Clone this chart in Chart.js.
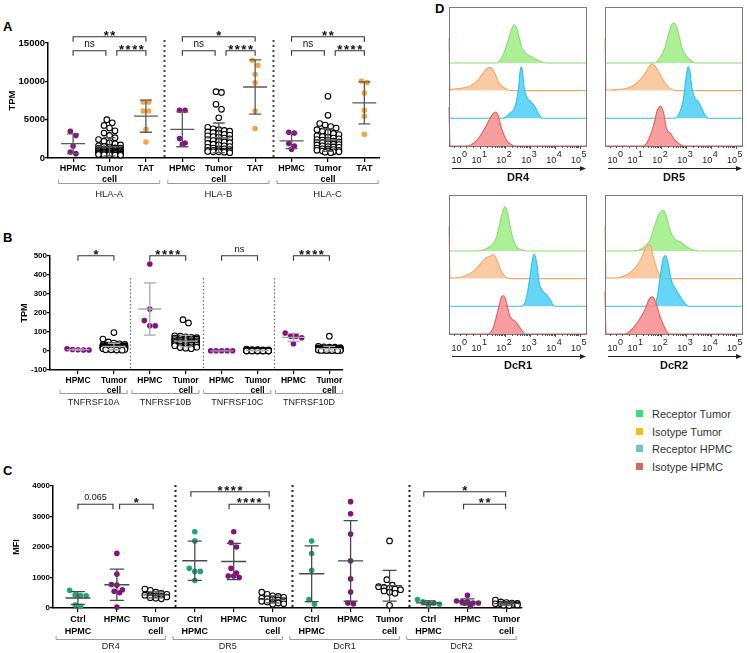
<!DOCTYPE html>
<html>
<head>
<meta charset="utf-8">
<script src="https://cdn.jsdelivr.net/npm/chart.js@4.4.1/dist/chart.umd.min.js"></script>
<style>
  html, body { margin:0; padding:0; background:#fff; }
  body { width:747px; height:653px; position:relative; overflow:hidden; font-family:"Liberation Sans", Arial, sans-serif; }
  canvas { position:absolute; }
  .tag { position:absolute; font-weight:bold; font-size:13px; line-height:14px; color:#000; }
  .leg { position:absolute; left:636px; font-size:11px; color:#333; line-height:12px; height:12px; }
  .leg i { position:absolute; left:0; top:2px; width:7px; height:7px; }
  .leg span { position:absolute; left:16px; top:0; white-space:nowrap; }
</style>
</head>
<body>
<div class="tag" style="left:3px;top:20px">A</div>
<div class="tag" style="left:3px;top:231px">B</div>
<div class="tag" style="left:3px;top:464px">C</div>
<div class="tag" style="left:435px;top:2px">D</div>

<canvas id="chartA" width="390" height="205" style="left:0;top:0"></canvas>
<canvas id="chartB" width="350" height="190" style="left:0;top:225px"></canvas>
<canvas id="chartC" width="530" height="185" style="left:0;top:468px"></canvas>
<canvas id="histDR4" width="152" height="185" style="left:440px;top:0"></canvas>
<canvas id="histDR5" width="152" height="185" style="left:596px;top:0"></canvas>
<canvas id="histDcR1" width="152" height="185" style="left:440px;top:188px"></canvas>
<canvas id="histDcR2" width="152" height="185" style="left:596px;top:188px"></canvas>

<div class="leg" style="top:408px"><i style="background:#33e27b"></i><span>Receptor Tumor</span></div>
<div class="leg" style="top:426px"><i style="background:#ffb81f"></i><span>Isotype Tumor</span></div>
<div class="leg" style="top:443px"><i style="background:#6cc4c4"></i><span>Receptor HPMC</span></div>
<div class="leg" style="top:461px"><i style="background:#cf6a63"></i><span>Isotype HPMC</span></div>

<script>
// Panel A - HLA expression (TPM)
const catsA = ['HPMC', 'Tumor cell', 'TAT'];
const genesA = ['HLA-A', 'HLA-B', 'HLA-C'];
const sigA = [['**', 'ns', '****'], ['*', 'ns', '****'], ['**', 'ns', '****']];
const hlaA_hpmc = [3490, 2920, 1570, 570, 785];
const hlaA_tumor = [5000, 4600, 4250, 3900, 3550, 3250, 2950, 2650, 2400, 2200,
  2000, 1850, 1700, 1600, 1500, 1400, 1320, 1250, 1180, 1100,
  1050, 1000, 950, 900, 860, 820, 780, 740, 700, 660,
  620, 580, 540, 500, 470, 440, 410, 380, 350,
  900, 1000, 800, 700, 600, 1200, 1300, 550, 650];
const hlaA_tat = [7310, 7310, 6135, 6135, 3750, 2090];
const hlaB_hpmc = [6215, 6215, 2530, 1960, 1790];
const hlaB_tumor = [8650, 8550, 7000, 6350, 5250, 4000, 3800, 3700, 3600, 3500,
  3400, 3300, 3200, 3100, 3000, 2900, 2800, 2700, 2600, 2500,
  2400, 2300, 2200, 2100, 2000, 1900, 1800, 1700, 1600, 1500,
  1400, 1300, 1200, 1100, 1000, 950, 900, 850, 800, 750,
  700, 800, 900, 1000, 1200];
const hlaB_tat = [12750, 12100, 10930, 9800, 6140, 3840];
const hlaC_hpmc = [3355, 3265, 1880, 1570, 1135];
const hlaC_tumor = [8050, 5570, 4500, 4300, 4100, 3900, 3700, 3500, 3350, 3200,
  3050, 2900, 2800, 2700, 2600, 2500, 2400, 2300, 2200, 2100,
  2000, 1900, 1800, 1700, 1600, 1500, 1400, 1300, 1200, 1100,
  1000, 900, 800, 750, 700, 1450, 1750, 2050, 2350, 1150,
  800, 900, 1000];
const hlaC_tat = [9840, 10050, 8490, 6230, 5445, 3090];

// Panel B - TRAIL receptors (TPM)
const catsB = ['HPMC', 'Tumor cell'];
const genesB = ['TNFRSF10A', 'TNFRSF10B', 'TNFRSF10C', 'TNFRSF10D'];
const sigB = ['*', '****', 'ns', '****'];
const r10A_hpmc = [8, 12, 6, 5, 5];
const r10A_tumor = [97, 63, 48, 42, 38, 35, 33, 31, 30, 29, 28, 27, 26, 25, 24, 23, 22, 21, 20, 19,
  18, 17, 16, 15, 14, 13, 12, 11, 10, 9, 8, 7, 6, 5, 4, 22, 18, 25, 20, 15];
const r10B_hpmc = [458, 221, 160, 133, 133];
const r10B_tumor = [165, 148, 80, 78, 75, 72, 70, 68, 66, 64, 62, 60, 58, 56, 54, 52, 50, 48, 46, 44,
  42, 40, 38, 36, 34, 32, 30, 28, 26, 24, 22, 20, 18, 15, 12, 55, 45, 35, 65, 50];
const r10C_hpmc = [1, 1, 1, 1, 1];
const r10C_tumor = [10, 8, 7, 6, 5, 5, 4, 4, 3, 3, 3, 2, 2, 2, 1, 1, 1, 1, 0, 0,
  0, 0, 0, 2, 3, 4, 1, 0, 1, 2, 5, 6, 3, 2, 1, 0, 4, 2, 1, 3];
const r10D_hpmc = [95, 77, 77, 70, 38];
const r10D_tumor = [78, 25, 22, 20, 18, 17, 16, 15, 14, 13, 12, 11, 10, 10, 9, 8, 7, 6, 5, 5,
  4, 3, 2, 1, 12, 8, 6, 14, 10, 7, 4, 3, 9, 11, 2, 5, 6, 8, 15, 20];

// Panel C - flow cytometry MFI
const catsC = ['Ctrl HPMC', 'HPMC', 'Tumor cell'];
const receptorsC = ['DR4', 'DR5', 'DcR1', 'DcR2'];
const dr4_ctrl = [580, 430, 410, 400, 50, 100];
const dr4_hpmc = [1790, 1110, 770, 750, 600, 500, 550, 30];
const dr4_tumor = [620, 580, 520, 480, 450, 420, 400, 390, 380, 360, 340, 320, 300];
const dr5_ctrl = [2500, 2200, 1300, 1200, 1200, 900];
const dr5_hpmc = [2500, 2150, 2000, 1300, 1150, 1000, 1050, 1050];
const dr5_tumor = [520, 450, 400, 380, 350, 320, 300, 280, 260, 240, 220, 200, 180, 160, 140, 120];
const dcr1_ctrl = [2193, 1787, 1239, 274, 120];
const dcr1_hpmc = [3487, 3092, 2423, 1546, 954, 526, 143, 164];
const dcr1_tumor = [2200, 930, 750, 700, 680, 650, 620, 600, 560, 520, 480, 90];
const dcr2_ctrl = [120, 200, 165, 165, 275, 100];
const dcr2_hpmc = [420, 165, 200, 200, 165, 165, 70, 230];
const dcr2_tumor = [260, 200, 180, 160, 150, 140, 130, 120, 110, 100, 90, 80];

// Panel D - histograms: [position on biexponential axis (decades), relative count]
const decadePos = [0.2, 1, 2, 3, 4, 5];
const dr4_recTumor = [[1.67,0],[1.87,0.18],[2.04,0.54],[2.18,0.96],[2.29,1.26],[2.38,1.38],[2.47,1.26],[2.58,0.90],[2.69,0.54],[2.82,0.36],[2.98,0.26],[3.14,0.18],[3.41,0.06],[3.65,0]];
const dr4_isoTumor = [[-0.245,1.89],[-0.2,0.03],[-0.14,0.05],[0.2,0.08],[0.6,0.17],[0.87,0.32],[1.07,0.57],[1.24,0.75],[1.37,0.84],[1.47,0.81],[1.6,0.63],[1.73,0.32],[1.94,0.12],[2.14,0.02],[2.27,0]];
const dr4_recHpmc = [[1.9,0],[2.04,0.04],[2.2,0.18],[2.41,0.42],[2.54,1.02],[2.61,1.68],[2.66,1.86],[2.71,1.68],[2.77,1.14],[2.87,0.78],[3.04,0.60],[3.21,0.42],[3.34,0.18],[3.52,0]];
const dr4_isoHpmc = [[-0.245,1.41],[-0.2,0],[0.5,0],[0.67,0.06],[0.87,0.2],[1.07,0.45],[1.24,0.71],[1.4,0.99],[1.53,1.17],[1.63,1.23],[1.73,1.11],[1.83,0.75],[1.94,0.45],[2.07,0.2],[2.27,0.05],[2.41,0]];
const dr5_recTumor = [[1.76,0],[1.96,0.18],[2.16,0.54],[2.30,1.02],[2.43,1.38],[2.53,1.44],[2.63,1.32],[2.74,0.96],[2.87,0.48],[3.01,0.26],[3.17,0.12],[3.37,0]];
const dr5_isoTumor = [[-0.245,1.89],[-0.2,0.02],[-0.04,0.02],[0.36,0.05],[0.76,0.12],[1.09,0.32],[1.36,0.62],[1.53,0.87],[1.63,0.96],[1.76,0.89],[1.94,0.63],[2.16,0.27],[2.37,0.08],[2.57,0]];
const dr5_recHpmc = [[2.57,0],[2.77,0.24],[2.90,0.66],[3.0,1.38],[3.09,1.86],[3.17,1.68],[3.24,1.14],[3.37,0.72],[3.50,0.60],[3.64,0.36],[3.77,0.12],[3.90,0]];
const dr5_isoHpmc = [[1.29,0],[1.49,0.2],[1.69,0.69],[1.86,1.29],[1.99,1.43],[2.10,1.23],[2.23,0.63],[2.39,0.45],[2.57,0.2],[2.77,0.06],[2.90,0]];
const dcr1_recTumor = [[0.87,0],[1.2,0.06],[1.47,0.2],[1.67,0.51],[1.80,0.99],[1.91,1.41],[2.0,1.59],[2.10,1.41],[2.2,0.93],[2.34,0.39],[2.47,0.14],[2.67,0.04],[2.88,0]];
const dcr1_isoTumor = [[-0.245,1.89],[-0.2,0.02],[-0.14,0.02],[0.33,0.08],[0.73,0.26],[1.0,0.51],[1.24,0.75],[1.4,0.81],[1.53,0.87],[1.67,0.69],[1.83,0.32],[2.0,0.08],[2.2,0]];
const dcr1_recHpmc = [[2.67,0],[2.85,0.24],[3.01,1.08],[3.12,1.74],[3.18,1.89],[3.28,1.56],[3.38,0.84],[3.52,0.54],[3.68,0.42],[3.81,0.24],[4.01,0]];
const dcr1_isoHpmc = [[1.29,0],[1.53,0.22],[1.73,0.88],[1.87,1.34],[1.96,1.38],[2.07,1.12],[2.2,0.64],[2.41,0.46],[2.61,0.22],[2.81,0]];
const dcr2_recTumor = [[0.89,0],[1.29,0.11],[1.56,0.39],[1.76,0.93],[1.94,1.35],[2.10,1.47],[2.23,1.23],[2.39,0.69],[2.57,0.42],[2.77,0.33],[3.04,0.14],[3.5,0]];
const dcr2_isoTumor = [[-0.245,1.89],[-0.2,0.02],[0.09,0.02],[0.63,0.14],[0.96,0.38],[1.19,0.69],[1.36,1.05],[1.49,1.23],[1.59,1.17],[1.69,0.81],[1.83,0.38],[1.99,0.08],[2.10,0]];
const dcr2_recHpmc = [[1.69,0],[1.86,0.36],[1.99,1.2],[2.10,1.74],[2.19,1.83],[2.30,1.5],[2.43,0.9],[2.61,0.6],[2.77,0.36],[2.97,0.1],[3.10,0]];
const dcr2_isoHpmc = [[-0.245,1.54],[-0.2,0],[0.56,0],[0.76,0.1],[1.09,0.46],[1.36,0.88],[1.53,1.26],[1.67,1.34],[1.80,1.12],[1.96,0.64],[2.16,0.22],[2.34,0]];

Chart.defaults.font.family = '"Liberation Sans", Arial, sans-serif';
Chart.defaults.color = '#000';

const PURPLE = '#850f85', ORANGE = '#f9a440', GREEN = '#1fa37a', OPEN = 'open';

function mean(a){ return a.reduce((s, v) => s + v, 0) / a.length; }
function sd(a){ const m = mean(a); return Math.sqrt(a.reduce((s, v) => s + (v - m) * (v - m), 0) / (a.length - 1)); }

// prism-like rows: close values share a row centred on the column
function swarm(vals, col, binY, step){
  const sorted = vals.slice().sort((a, b) => b - a);
  const out = [];
  let row = [];
  const flush = () => { row.forEach((v, j) => out.push({x: col + (j - (row.length - 1) / 2) * step, y: v})); row = []; };
  sorted.forEach(v => {
    if (row.length && (row[0] - v > binY || row.length >= 5)) flush();
    row.push(v);
  });
  flush();
  return out;
}

function drawSig(ctx, text, mid, y, font){
  if (/^\*+$/.test(text)){
    ctx.font = 'bold 13px "Liberation Sans", Arial';
    const n = text.length;
    for (let k = 0; k < n; k++) ctx.fillText('*', mid + (k - (n - 1) / 2) * 6.6, y + 3);
  } else {
    ctx.font = font;
    ctx.fillText(text, mid, y - 4);
  }
}

function overlay(p){
  return {
    id: 'overlay',
    afterDatasetsDraw(chart){
      const {ctx, scales: {x, y}} = chart;
      ctx.save();
      ctx.strokeStyle = p.barColor; ctx.lineWidth = 1.3;
      p.columns.forEach((vals, i) => {
        const m = mean(vals), s = sd(vals);
        const cx = x.getPixelForValue(i);
        const ym = y.getPixelForValue(m);
        const yt = y.getPixelForValue(m + s);
        const yb = y.getPixelForValue(Math.max(m - s, y.min));
        ctx.beginPath();
        ctx.moveTo(cx - p.meanHalf, ym); ctx.lineTo(cx + p.meanHalf, ym);
        ctx.moveTo(cx, yt); ctx.lineTo(cx, yb);
        ctx.moveTo(cx - p.capHalf, yt); ctx.lineTo(cx + p.capHalf, yt);
        if (m - s > y.min){ ctx.moveTo(cx - p.capHalf, yb); ctx.lineTo(cx + p.capHalf, yb); }
        ctx.stroke();
      });
      ctx.restore();
    },
    afterDraw(chart){
      const {ctx, chartArea, scales: {x}} = chart;
      ctx.save();
      // dotted separators
      ctx.strokeStyle = p.sep.color; ctx.lineWidth = p.sep.width; ctx.setLineDash(p.sep.dash);
      p.seps.forEach(v => {
        const px = Math.round(x.getPixelForValue(v)) + 0.5;
        ctx.beginPath(); ctx.moveTo(px, p.sep.top); ctx.lineTo(px, chartArea.bottom); ctx.stroke();
      });
      ctx.setLineDash([]);
      // significance brackets
      ctx.strokeStyle = '#333'; ctx.lineWidth = 1.1; ctx.fillStyle = '#111';
      ctx.textAlign = 'center'; ctx.textBaseline = 'alphabetic';
      p.brackets.forEach(b => {
        const x1 = x.getPixelForValue(b.from), x2 = x.getPixelForValue(b.to);
        ctx.beginPath();
        ctx.moveTo(x1, b.y + 5); ctx.lineTo(x1, b.y); ctx.lineTo(x2, b.y); ctx.lineTo(x2, b.y + 5);
        ctx.stroke();
        drawSig(ctx, b.text, (x1 + x2) / 2, b.y, p.sigFont);
      });
      // group brackets under the axis
      ctx.strokeStyle = '#9a9a9a'; ctx.lineWidth = 1; ctx.fillStyle = '#222';
      ctx.font = p.groupFont; ctx.textBaseline = 'middle';
      p.groups.forEach(g => {
        const x1 = x.getPixelForValue(g.from), x2 = x.getPixelForValue(g.to);
        ctx.beginPath();
        ctx.moveTo(x1, p.groupY - 3); ctx.lineTo(x1, p.groupY + 0.5); ctx.lineTo(x2, p.groupY + 0.5); ctx.lineTo(x2, p.groupY - 3);
        ctx.stroke();
        ctx.fillText(g.label, (x1 + x2) / 2, p.groupLabelY);
      });
      ctx.restore();
    }
  };
}

function dotPlot(id, p){
  const canvas = document.getElementById(id);
  const areaW = canvas.width - p.pad.left - p.pad.right - p.yW;
  const step = 5.5 * (p.xMax - p.xMin) / areaW;
  const datasets = p.columns.map((vals, i) => {
    const open = p.colors[i] === OPEN;
    return {
      data: swarm(vals, i, p.binY, step),
      pointRadius: 2.8,
      pointBackgroundColor: open ? '#fff' : p.colors[i],
      pointBorderColor: open ? '#000' : p.colors[i],
      pointBorderWidth: open ? 1.1 : 0,
      showLine: false,
      clip: false
    };
  });
  const labels = p.cats.map(c => c.split(' '));
  new Chart(canvas, {
    type: 'scatter',
    data: {datasets},
    options: {
      responsive: false,
      animation: false,
      layout: {padding: p.pad},
      plugins: {legend: {display: false}, tooltip: {enabled: false}},
      scales: {
        x: {
          type: 'linear', min: p.xMin, max: p.xMax,
          afterBuildTicks: s => { s.ticks = labels.map((l, i) => ({value: i})); },
          afterFit: s => { s.height = p.xH; },
          ticks: {autoSkip: false, maxRotation: 0, padding: p.xPad, color: '#000',
            font: {size: p.xFont, weight: 'bold', lineHeight: p.xLine},
            callback: v => labels[Math.round(v)]},
          grid: {drawOnChartArea: false, drawTicks: true, tickLength: 4, color: '#000', lineWidth: 1.2},
          border: {color: '#000', width: 1.5}
        },
        y: {
          min: p.yMin, max: p.yMax,
          afterFit: s => { s.width = p.yW; },
          ticks: {stepSize: p.yStep, padding: 0, color: '#000', font: {size: p.yFont, weight: 'bold'},
            callback: v => String(v)},
          grid: {drawOnChartArea: false, drawTicks: true, tickLength: 3, color: '#000', lineWidth: 1.2},
          border: {color: '#000', width: 1.5},
          title: {display: true, text: p.yTitle, color: '#000', font: {size: p.titleFont, weight: 'bold', lineHeight: 1.2},
            padding: {top: p.titlePad, bottom: 0}}
        }
      }
    },
    plugins: [overlay(p)]
  });
}

// ---------- Panel A
const colsA = [hlaA_hpmc, hlaA_tumor, hlaA_tat, hlaB_hpmc, hlaB_tumor, hlaB_tat, hlaC_hpmc, hlaC_tumor, hlaC_tat];
const bracketsA = [], groupsA = [];
genesA.forEach((g, k) => {
  const o = k * 3;
  bracketsA.push({from: o, to: o + 2, y: 36.7, text: sigA[k][0]});
  bracketsA.push({from: o, to: o + 0.9, y: 50.7, text: sigA[k][1]});
  bracketsA.push({from: o + 1.2, to: o + 2, y: 50.7, text: sigA[k][2]});
  groupsA.push({from: o - 0.4, to: o + 2.38, label: g});
});
dotPlot('chartA', {
  columns: colsA,
  colors: [PURPLE, OPEN, ORANGE, PURPLE, OPEN, ORANGE, PURPLE, OPEN, ORANGE],
  cats: genesA.flatMap(() => catsA),
  xMin: -0.69, xMax: 8.43, yMin: 0, yMax: 15000, yStep: 5000, yTitle: 'TPM',
  pad: {left: 0, top: 43, right: 10, bottom: 0}, yW: 48, xH: 47,
  xFont: 9, xLine: 1.2, xPad: 1, yFont: 9.5, titleFont: 9.5, titlePad: 6.5,
  binY: 720, barColor: '#5a5a5a', meanHalf: 12, capHalf: 6,
  seps: [2.5, 5.5], sep: {top: 40, width: 2, dash: [2, 3], color: '#444'},
  brackets: bracketsA, sigFont: '10px "Liberation Sans", Arial',
  groups: groupsA, groupY: 183, groupLabelY: 194, groupFont: '9.5px "Liberation Sans", Arial'
});

// ---------- Panel B
const colsB = [r10A_hpmc, r10A_tumor, r10B_hpmc, r10B_tumor, r10C_hpmc, r10C_tumor, r10D_hpmc, r10D_tumor];
const bracketsB = [], groupsB = [];
genesB.forEach((g, k) => {
  const o = k * 2;
  bracketsB.push({from: o, to: o + 1, y: 30.7, text: sigB[k]});
  groupsB.push({from: o - 0.5, to: o + 1.37, label: g});
});
dotPlot('chartB', {
  columns: colsB,
  colors: [PURPLE, OPEN, PURPLE, OPEN, PURPLE, OPEN, PURPLE, OPEN],
  cats: genesB.flatMap(() => catsB),
  xMin: -0.78, xMax: 7.38, yMin: -100, yMax: 500, yStep: 100, yTitle: 'TPM',
  pad: {left: 0, top: 31, right: 7, bottom: 0}, yW: 50, xH: 45,
  xFont: 8.5, xLine: 1.15, xPad: 2, yFont: 8, titleFont: 9, titlePad: 19.5,
  binY: 29, barColor: '#a8a8a8', meanHalf: 11.5, capHalf: 6,
  seps: [1.46, 3.48, 5.46], sep: {top: 53, width: 1.2, dash: [1.5, 2.2], color: '#666'},
  brackets: bracketsB, sigFont: '9.5px "Liberation Sans", Arial',
  groups: groupsB, groupY: 168, groupLabelY: 178, groupFont: '9px "Liberation Sans", Arial'
});

// ---------- Panel C
const colsC = [dr4_ctrl, dr4_hpmc, dr4_tumor, dr5_ctrl, dr5_hpmc, dr5_tumor,
  dcr1_ctrl, dcr1_hpmc, dcr1_tumor, dcr2_ctrl, dcr2_hpmc, dcr2_tumor];
const sigC = [['0.065', '*'], ['****', '****'], [], ['*', '**']];
const bracketsC = [
  {from: 0, to: 0.9, y: 36.3, text: sigC[0][0]},
  {from: 1.07, to: 1.93, y: 36.3, text: sigC[0][1]},
  {from: 2.9, to: 4.91, y: 23.7, text: sigC[1][0]},
  {from: 3.88, to: 4.91, y: 36.3, text: sigC[1][1]},
  {from: 8.88, to: 10.98, y: 23.7, text: sigC[3][0]},
  {from: 9.9, to: 10.98, y: 36.3, text: sigC[3][1]}
];
const groupsC = receptorsC.map((r, k) => ({from: k * 3 - 0.56, to: k * 3 + 2.25, label: r}));
dotPlot('chartC', {
  columns: colsC,
  colors: [GREEN, PURPLE, OPEN, GREEN, PURPLE, OPEN, GREEN, PURPLE, OPEN, GREEN, PURPLE, OPEN],
  cats: receptorsC.flatMap(() => catsC),
  xMin: -0.64, xMax: 11.4, yMin: 0, yMax: 4000, yStep: 1000, yTitle: 'MFI',
  pad: {left: 0, top: 18, right: 8, bottom: 0}, yW: 53, xH: 45,
  xFont: 9, xLine: 1.3, xPad: 2, yFont: 8, titleFont: 9, titlePad: 11.5,
  binY: 180, barColor: '#4a4a4a', meanHalf: 12.5, capHalf: 7,
  seps: [2.5, 5.5, 8.5], sep: {top: 17, width: 2, dash: [2, 3], color: '#222'},
  brackets: bracketsC, sigFont: '9px "Liberation Sans", Arial',
  groups: groupsC, groupY: 171, groupLabelY: 179, groupFont: '9px "Liberation Sans", Arial'
});

// ---------- Panel D histograms
const X0 = -0.245, X1 = 5.3;
const trackStyle = [
  {fill: 'rgba(245,140,140,0.85)', line: '#ee5b5b'},   // isotype HPMC
  {fill: 'rgba(80,208,245,0.88)', line: '#2cc0ee'},    // receptor HPMC
  {fill: 'rgba(249,196,150,0.88)', line: '#f4a868'},   // isotype tumor
  {fill: 'rgba(160,238,135,0.88)', line: '#86e06c'}    // receptor tumor
];
const supDigits = ['0', '1', '2', '3', '4', '5'];

function histFrame(title){
  return {
    id: 'histFrame',
    afterDraw(chart){
      const {ctx, chartArea: a, scales: {x}} = chart;
      ctx.save();
      ctx.strokeStyle = '#7a7a7a'; ctx.lineWidth = 1;
      ctx.strokeRect(a.left + 0.5, a.top + 0.5, a.right - a.left - 1, a.bottom - a.top);
      // minor ticks under the frame
      ctx.strokeStyle = '#555';
      ctx.beginPath();
      for (let d = 1; d < 5; d++){
        for (let k = 1; k < 10; k++){
          const px = Math.round(x.getPixelForValue(d + Math.log10(k))) + 0.5;
          ctx.moveTo(px, a.bottom); ctx.lineTo(px, a.bottom + (k === 1 ? 3 : 2));
        }
      }
      [0.2, 0.45, 0.7, -0.05].forEach(v => {
        const px = Math.round(x.getPixelForValue(v)) + 0.5;
        ctx.moveTo(px, a.bottom); ctx.lineTo(px, a.bottom + 2);
      });
      const p5 = Math.round(x.getPixelForValue(5)) + 0.5;
      ctx.moveTo(p5, a.bottom); ctx.lineTo(p5, a.bottom + 3);
      ctx.stroke();
      // decade labels
      ctx.fillStyle = '#222'; ctx.textBaseline = 'alphabetic';
      decadePos.forEach((v, n) => {
        const px = x.getPixelForValue(v);
        ctx.font = '9px "Liberation Sans", Arial';
        ctx.textAlign = 'right'; ctx.fillText('10', px + 1.5, a.bottom + 17);
        ctx.textAlign = 'left'; ctx.fillText(supDigits[n], px + 2, a.bottom + 11);
      });
      // arrow
      const ay = a.bottom + 22.5;
      ctx.strokeStyle = '#222'; ctx.fillStyle = '#222'; ctx.lineWidth = 1;
      ctx.beginPath(); ctx.moveTo(a.left + 3, ay); ctx.lineTo(a.right - 4, ay); ctx.stroke();
      ctx.beginPath(); ctx.moveTo(a.right - 1, ay); ctx.lineTo(a.right - 7, ay - 2.5); ctx.lineTo(a.right - 7, ay + 2.5); ctx.closePath(); ctx.fill();
      // title
      ctx.font = 'bold 11px "Liberation Sans", Arial';
      ctx.textAlign = 'center'; ctx.textBaseline = 'middle'; ctx.fillStyle = '#111';
      ctx.fillText(title, (a.left + a.right) / 2, a.bottom + 32);
      ctx.restore();
    }
  };
}

function histo(id, title, tracks){
  const datasets = tracks.map((t, k) => {
    const pts = t.map(([x, d]) => ({x, y: k + d}));
    if (pts[0].x > X0 + 1e-6) pts.unshift({x: X0, y: k});
    if (pts[pts.length - 1].x < X1) pts.push({x: X1, y: k});
    return {
      data: pts,
      borderColor: trackStyle[k].line,
      backgroundColor: trackStyle[k].fill,
      borderWidth: 1.1,
      pointRadius: 0,
      fill: {value: k},
      cubicInterpolationMode: 'monotone',
      order: k,
      clip: 1
    };
  });
  new Chart(document.getElementById(id), {
    type: 'line',
    data: {datasets},
    options: {
      responsive: false,
      animation: false,
      layout: {padding: {left: 9, right: 5, top: 7, bottom: 39}},
      plugins: {legend: {display: false}, tooltip: {enabled: false}},
      scales: {
        x: {type: 'linear', min: X0, max: X1, display: false},
        y: {min: 0, max: 5.02, display: false}
      }
    },
    plugins: [histFrame(title)]
  });
}

histo('histDR4', 'DR4', [dr4_isoHpmc, dr4_recHpmc, dr4_isoTumor, dr4_recTumor]);
histo('histDR5', 'DR5', [dr5_isoHpmc, dr5_recHpmc, dr5_isoTumor, dr5_recTumor]);
histo('histDcR1', 'DcR1', [dcr1_isoHpmc, dcr1_recHpmc, dcr1_isoTumor, dcr1_recTumor]);
histo('histDcR2', 'DcR2', [dcr2_isoHpmc, dcr2_recHpmc, dcr2_isoTumor, dcr2_recTumor]);
</script>
</body>
</html>
